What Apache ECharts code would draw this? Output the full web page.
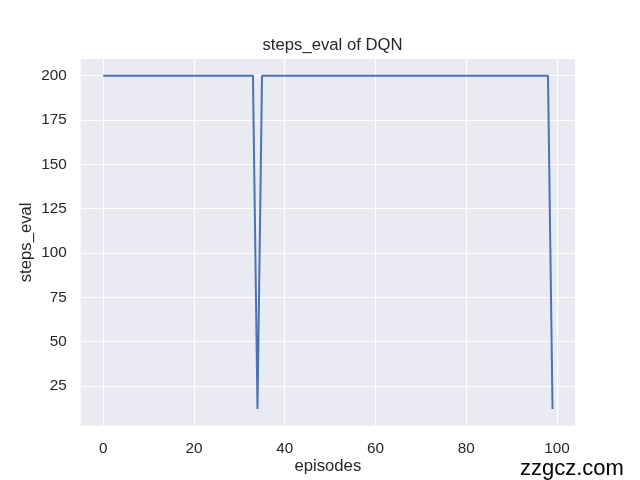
<!DOCTYPE html>
<html><head><meta charset="utf-8">
<script src="https://cdn.jsdelivr.net/npm/echarts@6/dist/echarts.min.js"></script>
<style>html,body{margin:0;padding:0;background:#fff}#c{width:640px;height:480px}</style>
</head><body><div id="c"></div>
<script>
const episodes = Array.from({length: 100}, (_, i) => i);
const stepsEval = [
  200,200,200,200,200,200,200,200,200,200,
  200,200,200,200,200,200,200,200,200,200,
  200,200,200,200,200,200,200,200,200,200,
  200,200,200,200,12,200,200,200,200,200,
  200,200,200,200,200,200,200,200,200,200,
  200,200,200,200,200,200,200,200,200,200,
  200,200,200,200,200,200,200,200,200,200,
  200,200,200,200,200,200,200,200,200,200,
  200,200,200,200,200,200,200,200,200,200,
  200,200,200,200,200,200,200,200,200,12
];
const xTicks = [0, 20, 40, 60, 80, 100];
const yTicks = [25, 50, 75, 100, 125, 150, 175, 200];

const txt = '#262626';
const font = '"Liberation Sans", Arial, sans-serif';
const chart = echarts.init(document.getElementById('c'), null, {renderer: 'canvas'});
chart.setOption({
  backgroundColor: '#ffffff',
  animation: false,
  title: {
    text: 'steps_eval of DQN', left: 257.5, top: 32,
    textStyle: {fontFamily: font, fontSize: 16.7, fontWeight: 'normal', color: txt}
  },
  graphic: [{
    type: 'text', left: 520, top: 458,
    style: {text: 'zzgcz.com', fontFamily: font, fontSize: 22, fill: '#000'}
  }],
  grid: {left: 80.7, right: 65, top: 59, bottom: 54.3, show: true, backgroundColor: '#EAEAF2', borderWidth: 0,
         containLabel: false, outerBoundsMode: 'none'},
  xAxis: {
    type: 'value', min: -4.95, max: 103.95,
    name: 'episodes', nameLocation: 'middle', nameGap: 32, nameMoveOverlap: false,
    nameTextStyle: {fontFamily: font, fontSize: 16.7, color: txt},
    axisLine: {show: false},
    axisTick: {show: false, customValues: xTicks},
    axisLabel: {customValues: xTicks, fontFamily: font, fontSize: 15.3, color: txt, margin: 16},
    splitLine: {show: true, lineStyle: {color: '#ffffff', width: 1.2}}
  },
  yAxis: {
    type: 'value', min: 2.6, max: 209.4,
    name: 'steps_eval', nameLocation: 'middle', nameGap: 46, nameMoveOverlap: false,
    nameTextStyle: {fontFamily: font, fontSize: 16.7, color: txt},
    axisLine: {show: false},
    axisTick: {show: false, customValues: yTicks},
    axisLabel: {customValues: yTicks, fontFamily: font, fontSize: 15.3, color: txt, margin: 14},
    splitLine: {show: true, lineStyle: {color: '#ffffff', width: 1.2}}
  },
  series: [{
    type: 'line', data: episodes.map((e, i) => [e, stepsEval[i]]),
    showSymbol: false, symbol: 'none',
    lineStyle: {color: '#4C72B0', width: 2}
  }]
});
</script></body></html>
